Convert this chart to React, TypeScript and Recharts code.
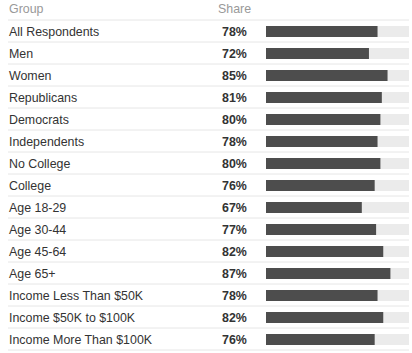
import { BarChart, Bar, XAxis, YAxis } from "recharts";

const groups = [
  "All Respondents",
  "Men",
  "Women",
  "Republicans",
  "Democrats",
  "Independents",
  "No College",
  "College",
  "Age 18-29",
  "Age 30-44",
  "Age 45-64",
  "Age 65+",
  "Income Less Than $50K",
  "Income $50K to $100K",
  "Income More Than $100K",
];
const shares = [78, 72, 85, 81, 80, 78, 80, 76, 67, 77, 82, 87, 78, 82, 76];

const data = groups.map((g, i) => ({ group: g, share: shares[i] }));

const font = "Arial, 'Liberation Sans', sans-serif";

// row label + share value + separator line below each row
function RowTick(props: any) {
  const { y, payload, index } = props;
  return (
    <g>
      <text x={9} y={y} dy={4.5} fontSize={12.4} fill="#333" fontFamily={font} textAnchor="start">
        {payload.value}
      </text>
      <text x={222} y={y} dy={4.5} fontSize={12.4} fill="#333" fontWeight="bold" fontFamily={font} textAnchor="start">
        {shares[index]}%
      </text>
      <line x1={8} x2={409} y1={y + 11} y2={y + 11} stroke="#e6e6e6" />
    </g>
  );
}

export default function App() {
  return (
    <div style={{ position: "absolute", left: 0, top: 0, width: 412, height: 353, background: "#fff", fontFamily: font }}>
      <div style={{ position: "absolute", left: 9, top: 2, fontSize: 12.4, color: "#999" }}>Group</div>
      <div style={{ position: "absolute", left: 218, top: 2, fontSize: 12.4, color: "#999" }}>Share</div>
      <BarChart
        width={412}
        height={353}
        data={data}
        layout="vertical"
        margin={{ top: 20, right: 3, bottom: 3, left: 0 }}
        barCategoryGap={0}
      >
        <line x1={8} x2={409} y1={20} y2={20} stroke="#e6e6e6" />
        <XAxis type="number" domain={[0, 100]} hide />
        <YAxis
          type="category"
          dataKey="group"
          width={266}
          axisLine={false}
          tickLine={false}
          interval={0}
          tick={<RowTick />}
        />
        <Bar dataKey="share" fill="#4d4d4d" barSize={11} background={{ fill: "#ebebeb" }} isAnimationActive={false} />
      </BarChart>
    </div>
  );
}
